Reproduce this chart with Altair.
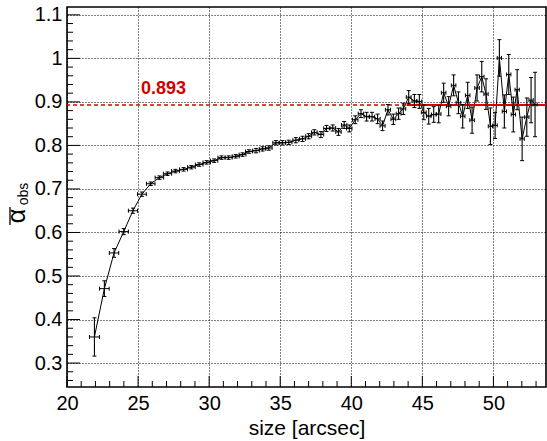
import altair as alt
import pandas as pd

# ---- data ----
size_x = [21.93, 22.63, 23.31, 23.99, 24.64, 25.27, 25.89, 26.50, 27.07, 27.63,
          28.20, 28.75, 29.30, 29.83, 30.35, 30.87, 31.37, 31.87, 32.35, 32.80,
          33.30, 33.76, 34.20, 34.70, 35.16, 35.60, 36.10, 36.57, 37.00, 37.40,
          37.86, 38.26, 38.70, 39.10, 39.50, 39.86, 40.28, 40.68, 41.08, 41.46,
          41.85, 42.20, 42.58, 42.96, 43.33, 43.66, 44.04, 44.44, 44.79, 45.10,
          45.45, 45.80, 46.15, 46.50, 46.85, 47.20, 47.54, 47.84, 48.19, 48.50,
          48.85, 49.18, 49.48, 49.79, 50.12, 50.42, 50.77, 51.08, 51.40, 51.67,
          52.02, 52.35, 52.65, 52.93]
alpha_obs = [0.360, 0.471, 0.553, 0.602, 0.650, 0.688, 0.712, 0.726, 0.735, 0.741,
             0.745, 0.750, 0.756, 0.761, 0.765, 0.772, 0.772, 0.775, 0.779, 0.786,
             0.788, 0.792, 0.794, 0.806, 0.806, 0.807, 0.812, 0.815, 0.821, 0.830,
             0.825, 0.839, 0.840, 0.831, 0.847, 0.839, 0.859, 0.873, 0.866, 0.866,
             0.861, 0.845, 0.882, 0.860, 0.873, 0.884, 0.911, 0.902, 0.901, 0.876,
             0.867, 0.871, 0.872, 0.921, 0.890, 0.938, 0.898, 0.867, 0.915, 0.858,
             0.932, 0.958, 0.918, 0.844, 0.846, 1.001, 0.878, 0.963, 0.871, 0.928,
             0.815, 0.865, 0.904, 0.894]
err_y = [0.044, 0.018, 0.010, 0.007, 0.006, 0.005, 0.004, 0.004, 0.004, 0.004,
         0.004, 0.004, 0.004, 0.004, 0.004, 0.004, 0.004, 0.004, 0.004, 0.004,
         0.005, 0.005, 0.005, 0.005, 0.005, 0.005, 0.006, 0.006, 0.006, 0.006,
         0.007, 0.007, 0.007, 0.008, 0.008, 0.008, 0.009, 0.009, 0.010, 0.010,
         0.011, 0.011, 0.012, 0.012, 0.013, 0.013, 0.015, 0.015, 0.016, 0.017,
         0.018, 0.018, 0.020, 0.022, 0.022, 0.024, 0.025, 0.027, 0.030, 0.030,
         0.030, 0.035, 0.035, 0.042, 0.030, 0.042, 0.038, 0.046, 0.040, 0.046,
         0.050, 0.044, 0.052, 0.074]
err_x = [0.35, 0.34, 0.33, 0.33, 0.32, 0.31, 0.30, 0.30, 0.29, 0.28,
         0.28, 0.27, 0.27, 0.26, 0.26, 0.25, 0.25, 0.25, 0.24, 0.24,
         0.23, 0.23, 0.23, 0.22, 0.22, 0.22, 0.21, 0.21, 0.21, 0.20,
         0.20, 0.20, 0.20, 0.19, 0.19, 0.19, 0.19, 0.19, 0.18, 0.18,
         0.18, 0.18, 0.18, 0.17, 0.17, 0.17, 0.17, 0.17, 0.17, 0.17,
         0.16, 0.16, 0.16, 0.16, 0.16, 0.16, 0.16, 0.16, 0.16, 0.16,
         0.16, 0.16, 0.15, 0.15, 0.15, 0.15, 0.15, 0.15, 0.15, 0.15,
         0.15, 0.15, 0.15, 0.15]

fit_value = 0.893
fit_range = [43.9, 53.7]
fit_label = "0.893"
label_pos = [25.2, 0.917]

x_domain = [20, 53.7]
y_domain = [0.245, 1.118]
x_major = [20, 25, 30, 35, 40, 45, 50]
x_minor = [v for v in range(21, 54) if v % 5 != 0]
y_major = [0.3, 0.4, 0.5, 0.6, 0.7, 0.8, 0.9, 1.0, 1.1]
y_minor = [round(v / 100, 2) for v in range(26, 112, 2) if v % 10 != 0]

# ---- tables ----
df = pd.DataFrame({"x": size_x, "y": alpha_obs, "ey": err_y, "ex": err_x})
df["ylo"] = df["y"] - df["ey"]
df["yhi"] = df["y"] + df["ey"]
df["xlo"] = df["x"] - df["ex"]
df["xhi"] = df["x"] + df["ex"]

W, H = 479, 380
FONT = "Liberation Sans"
RED = "#e00000"

xs = alt.Scale(domain=x_domain, nice=False, zero=False)
ys = alt.Scale(domain=y_domain, nice=False, zero=False)

X = alt.X("x:Q", scale=xs, axis=alt.Axis(
    values=x_major, grid=True, gridDash=[1, 2], gridColor="#000", gridOpacity=1,
    ticks=False, tickSize=0, domain=False, labelFont=FONT, labelFontSize=20,
    labelColor="#000", labelPadding=6, labelBaseline="top", labelFlush=False,
    labelOverlap=False,
    title="size [arcsec]", titleFont=FONT, titleFontSize=21, titleFontWeight="normal",
    titleColor="#000", titleBaseline="alphabetic", titleY=47))
Y = alt.Y("y:Q", scale=ys, axis=alt.Axis(
    values=y_major, format="~g", grid=True, gridDash=[1, 2], gridColor="#000",
    gridOpacity=1, ticks=False, tickSize=0, domain=False, labelFont=FONT,
    labelFontSize=20, labelColor="#000", labelPadding=5, labelFlush=False,
    labelOverlap=False, title=None))

base = alt.Chart(df)

line = base.mark_line(color="black", strokeWidth=1).encode(x=X, y=Y)
vbars = base.mark_rule(color="black", strokeWidth=1.1).encode(
    x=alt.X("x:Q", scale=xs), y=alt.Y("ylo:Q", scale=ys), y2="yhi:Q")
hbars = base.mark_rule(color="black", strokeWidth=1).encode(
    x=alt.X("xlo:Q", scale=xs), x2="xhi:Q", y=alt.Y("y:Q", scale=ys))
hcap = "M -1 0 L 1 0"
vcap = "M 0 -1 L 0 1"
cap_lo = base.mark_point(shape=hcap, size=16, filled=False, color="black", strokeWidth=1, opacity=1).encode(
    x=alt.X("x:Q", scale=xs), y=alt.Y("ylo:Q", scale=ys))
cap_hi = base.mark_point(shape=hcap, size=16, filled=False, color="black", strokeWidth=1, opacity=1).encode(
    x=alt.X("x:Q", scale=xs), y=alt.Y("yhi:Q", scale=ys))
cap_l = base.mark_point(shape=vcap, size=16, filled=False, color="black", strokeWidth=1, opacity=1).encode(
    x=alt.X("xlo:Q", scale=xs), y=alt.Y("y:Q", scale=ys))
cap_r = base.mark_point(shape=vcap, size=16, filled=False, color="black", strokeWidth=1, opacity=1).encode(
    x=alt.X("xhi:Q", scale=xs), y=alt.Y("y:Q", scale=ys))

fit_df = pd.DataFrame({"y": [fit_value], "x": [fit_range[0]], "x2": [fit_range[1]]})
dashed = alt.Chart(fit_df).mark_rule(color=RED, strokeWidth=1.6, strokeDash=[4, 3]).encode(
    y=alt.Y("y:Q", scale=ys))
solid = alt.Chart(fit_df).mark_rule(color=RED, strokeWidth=2).encode(
    x=alt.X("x:Q", scale=xs), x2="x2:Q", y=alt.Y("y:Q", scale=ys))
lab_df = pd.DataFrame({"x": [label_pos[0]], "y": [label_pos[1]], "t": [fit_label]})
label = alt.Chart(lab_df).mark_text(color="#d40000", font=FONT, fontSize=18, fontWeight="bold",
                                    align="left", baseline="alphabetic").encode(
    x=alt.X("x:Q", scale=xs), y=alt.Y("y:Q", scale=ys), text="t:N")

# manual inside ticks (ROOT style)
xmaj = alt.Chart(pd.DataFrame({"x": x_major})).mark_rule(color="black", strokeWidth=1).encode(
    x=alt.X("x:Q", scale=xs), y=alt.value(H), y2=alt.value(H - 11))
xmin = alt.Chart(pd.DataFrame({"x": x_minor})).mark_rule(color="black", strokeWidth=1).encode(
    x=alt.X("x:Q", scale=xs), y=alt.value(H), y2=alt.value(H - 6))
ymaj = alt.Chart(pd.DataFrame({"y": y_major})).mark_rule(color="black", strokeWidth=1).encode(
    y=alt.Y("y:Q", scale=ys), x=alt.value(0), x2=alt.value(13))
ymin = alt.Chart(pd.DataFrame({"y": y_minor})).mark_rule(color="black", strokeWidth=1).encode(
    y=alt.Y("y:Q", scale=ys), x=alt.value(0), x2=alt.value(6))

# y-axis title: overlined alpha with subscript "obs"
t_df = pd.DataFrame({"a": ["α"], "s": ["obs"]})
ttl_alpha = alt.Chart(t_df).mark_text(font=FONT, fontSize=25, angle=270, color="black",
                                      align="center", baseline="middle").encode(
    text="a:N", x=alt.value(-50), y=alt.value(209))
ttl_sub = alt.Chart(t_df).mark_text(font=FONT, fontSize=14, angle=270, color="black",
                                    align="center", baseline="middle").encode(
    text="s:N", x=alt.value(-43), y=alt.value(187))
ttl_bar = alt.Chart(t_df).mark_rule(color="black", strokeWidth=1.3).encode(
    x=alt.value(-57), y=alt.value(200), y2=alt.value(218))

chart = alt.layer(
    line, dashed, solid, vbars, hbars, cap_lo, cap_hi, cap_l, cap_r, label,
    xmaj, xmin, ymaj, ymin, ttl_alpha, ttl_sub, ttl_bar
).properties(
    width=W, height=H,
    padding={"left": 67, "top": 7, "right": 1, "bottom": 54},
    autosize=alt.AutoSizeParams(type="none"),
    background="white",
).configure_view(stroke="black", strokeWidth=1.6)

chart.save("out.html", embed_options={"renderer": "svg", "actions": False})
